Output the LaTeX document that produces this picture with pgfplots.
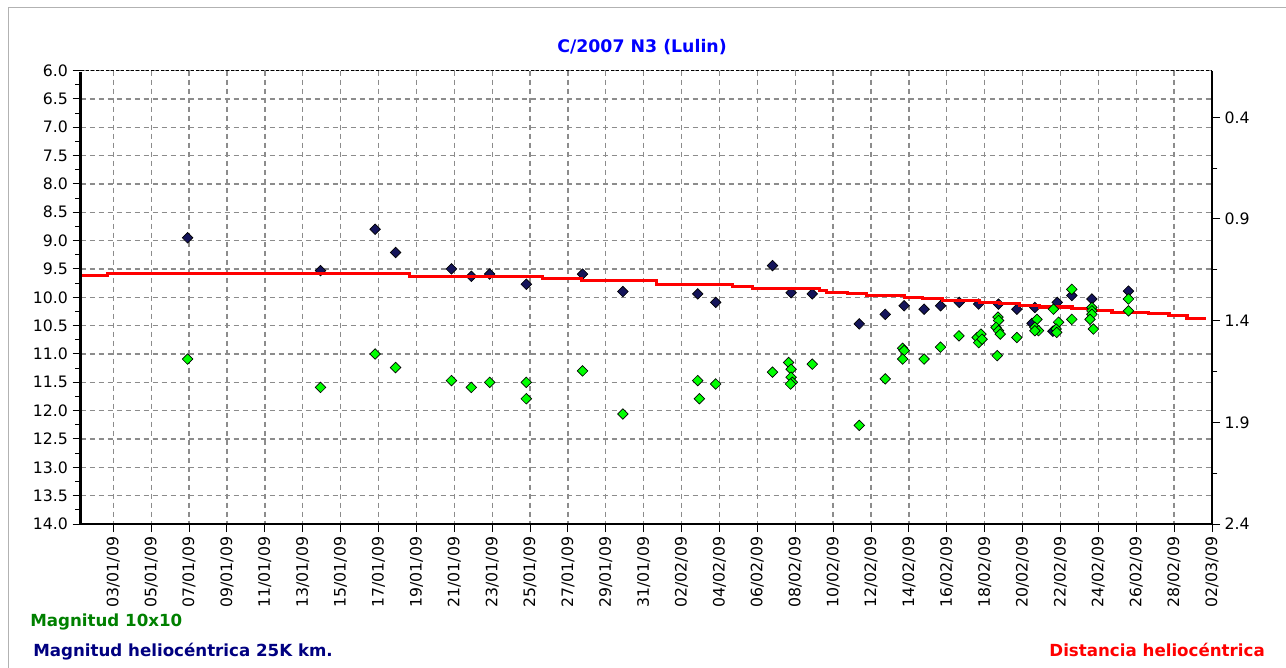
\documentclass[border=0pt]{standalone}
\usepackage{fontspec}
\setmainfont{DejaVu Sans}
\usepackage{pgfplots}
\pgfplotsset{compat=1.18}
\definecolor{verdemag}{HTML}{00FF00}
\definecolor{verdetxt}{HTML}{008000}
\definecolor{azulmag}{HTML}{14145A}
\definecolor{azultxt}{HTML}{000080}
\definecolor{rejilla}{HTML}{8C8C8C}
\definecolor{rojo}{HTML}{FF0000}

% 1 px of the reference = 0.75pt
\pgfplotsset{
  base/.style={scale only axis,width=848.6pt,height=340.1pt,at={(60.4pt,108pt)},anchor=south west,
    xmin=1.27,xmax=61,axis line style={draw=none},tick align=outside,
    major tick length=6pt,minor tick length=4pt,tick style={black,line width=0.75pt},
    ticklabel style={font=\fontsize{11.8pt}{13pt}\selectfont},
    /pgf/number format/.cd,fixed,fixed zerofill,precision=1,assume math mode=true},
  rombo/.style={only marks,mark=square*,mark size=2.8pt,mark options={rotate=45,draw=black,line width=0.5pt,fill=#1}}
}

\begin{document}
\begin{tikzpicture}
\useasboundingbox (0,0) rectangle (964.5pt,501pt);
\draw[gray!60,line width=0.75pt] (6pt,0) -- (6pt,495pt) -- (964.5pt,495pt);

% magnitudes (left axis)
\begin{axis}[base,ymin=6,ymax=14,y dir=reverse,
  ytick={6,6.5,7,7.5,8,8.5,9,9.5,10,10.5,11,11.5,12,12.5,13,13.5,14},minor y tick num=1,
  xtick={3,5,...,61},
  xticklabels={03/01/09,05/01/09,07/01/09,09/01/09,11/01/09,13/01/09,15/01/09,17/01/09,19/01/09,21/01/09,23/01/09,25/01/09,27/01/09,29/01/09,31/01/09,02/02/09,04/02/09,06/02/09,08/02/09,10/02/09,12/02/09,14/02/09,16/02/09,18/02/09,20/02/09,22/02/09,24/02/09,26/02/09,28/02/09,02/03/09},
  x tick label style={rotate=90,anchor=east},
  tick pos=left,grid=major,major grid style={rejilla,line width=1pt,dash pattern=on 3.75pt off 3pt}]
\addplot[rombo=azulmag] coordinates {
(6.92,8.95)(13.94,9.53)(16.82,8.80)(17.90,9.21)(20.85,9.50)(21.90,9.63)(22.87,9.59)
(24.80,9.77)(27.77,9.59)(29.90,9.90)(33.85,9.94)(34.80,10.09)(37.80,9.44)(38.78,9.92)
(39.90,9.94)(42.38,10.47)(43.75,10.30)(44.75,10.15)(45.80,10.21)(46.67,10.15)(47.66,10.09)
(48.68,10.12)(49.73,10.12)(50.70,10.21)(51.50,10.46)(51.65,10.18)(52.60,10.60)(52.83,10.09)
(53.60,9.97)(54.66,10.03)(56.59,9.89)};
\end{axis}

% heliocentric distance (right axis)
\begin{axis}[base,ymin=0.17,ymax=2.4,y dir=reverse,xtick=\empty,
  ytick={0.4,0.9,1.4,1.9,2.4},minor ytick={0.65,1.15,1.65,2.15},
  ytick pos=right,yticklabel pos=right]
\addplot[const plot,rojo,line width=2.3pt] coordinates {
(1.27,1.178)(2.67,1.170)(18.65,1.181)(25.66,1.191)(27.71,1.201)(31.67,1.222)(35.68,1.233)
(36.73,1.243)(40.27,1.251)(40.64,1.260)(41.75,1.268)(42.75,1.276)(44.75,1.284)(45.70,1.292)
(46.76,1.300)(48.71,1.309)(49.76,1.317)(50.82,1.325)(51.87,1.333)(53.61,1.341)(54.67,1.350)
(55.72,1.358)(57.67,1.366)(58.73,1.374)(59.68,1.390)(60.68,1.390)};
\end{axis}

% Magnitud 10x10
\begin{axis}[base,ymin=6,ymax=14,y dir=reverse,hide axis]
\addplot[rombo=verdemag] coordinates {
(6.92,11.09)(13.94,11.59)(16.82,11.00)(17.90,11.24)(20.85,11.47)(21.90,11.59)(22.87,11.50)
(24.80,11.50)(24.80,11.79)(27.77,11.30)(29.90,12.06)(33.85,11.47)(33.94,11.79)(34.80,11.53)
(37.80,11.32)(38.65,11.15)(38.78,11.27)(38.78,11.41)(38.85,11.50)(38.75,11.53)(39.90,11.18)
(42.38,12.26)(43.75,11.44)(44.67,10.90)(44.75,10.94)(44.67,11.09)(45.80,11.09)(46.67,10.88)
(47.64,10.68)(48.60,10.71)(48.80,10.65)(48.68,10.80)(48.86,10.74)(49.70,10.35)(49.73,10.41)
(49.60,10.53)(49.73,10.59)(49.82,10.65)(49.66,11.03)(50.70,10.71)(51.76,10.39)(51.65,10.53)
(51.84,10.59)(51.65,10.59)(52.63,10.21)(52.90,10.44)(52.77,10.56)(52.80,10.62)(53.60,9.86)
(53.60,10.39)(54.66,10.18)(54.66,10.24)(54.66,10.30)(54.56,10.39)(54.74,10.56)(56.59,10.03)
(56.59,10.24)};
\end{axis}

\draw[black,line width=0.75pt,dash pattern=on 2.25pt off 1.5pt] (60.4pt,448.1pt) -- (909pt,448.1pt);
\draw[black,line width=2.2pt] (60.4pt,447pt) -- (60.4pt,108pt) -- (909pt,108pt) -- (909pt,448.1pt);

\node[font=\bfseries\fontsize{13pt}{15pt}\selectfont,text=blue] at (481.5pt,465.75pt) {C/2007 N3 (Lulin)};
\node[font=\bfseries\fontsize{12.5pt}{14pt}\selectfont,text=verdetxt,anchor=west,inner sep=0pt] at (22.5pt,34.5pt) {Magnitud 10x10};
\node[font=\bfseries\fontsize{12.5pt}{14pt}\selectfont,text=azultxt,anchor=west,inner sep=0pt] at (24.75pt,12pt) {Magnitud heliocéntrica 25K km.};
\node[font=\bfseries\fontsize{12.5pt}{14pt}\selectfont,text=rojo,anchor=east,inner sep=0pt] at (948.75pt,13.5pt) {Distancia heliocéntrica};
\end{tikzpicture}
\end{document}
